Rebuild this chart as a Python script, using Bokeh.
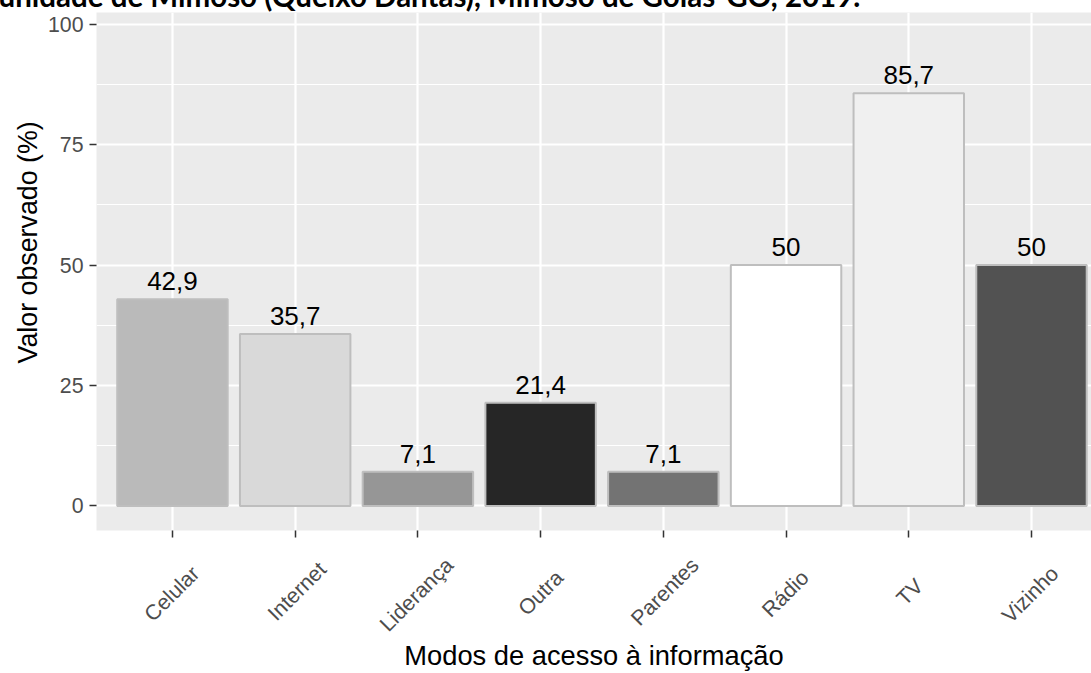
import math
from bokeh.plotting import figure
from bokeh.models import Range1d, FixedTicker, ColumnDataSource, Title
from bokeh.core.properties import value
from bokeh.embed import file_html
from bokeh.resources import INLINE

# ---- data ----
categories = ["Celular", "Internet", "Liderança", "Outra", "Parentes", "Rádio", "TV", "Vizinho"]
values = [42.9, 35.7, 7.1, 21.4, 7.1, 50, 85.7, 50]
value_labels = ["42,9", "35,7", "7,1", "21,4", "7,1", "50", "85,7", "50"]
fill_colors = ["#BABABA", "#D9D9D9", "#969696", "#262626", "#737373", "#FFFFFF", "#F0F0F0", "#525252"]
y_ticks = [0, 25, 50, 75, 100]
y_minor = [12.5, 37.5, 62.5, 87.5]
title_text = "unidade de Mimoso (Queixo Dantas), Mimoso de Goiás-GO, 2019."
x_title = "Modos de acesso à informação"
y_title = "Valor observado (%)"

xs = [i + 1 for i in range(len(categories))]

# ---- layout constants (page pixels) ----
HIDE = 30                      # canvas pixels hidden above the page top (cropped title)
W, H = 1091, 673 + HIDE
LEFT, TOP, BOTTOM = 96, 12 + HIDE, 134
X0, X1 = 0.381, 8.489
Y0, Y1 = -5.102, 102.45
frame_h = H - TOP - BOTTOM
frame_w = W - LEFT
ppu_y = frame_h / (Y1 - Y0)
ppu_x = frame_w / (X1 - X0)

FONT = "Liberation Sans"
TICK_FS = 21.3
TITLE_FS = "26.8px"

# x tick labels: ggplot-style 45 deg labels centred under the ticks.
AW = {"C": .722, "e": .556, "l": .222, "u": .556, "a": .556, "r": .333, "I": .278,
      "n": .556, "t": .278, "L": .556, "i": .222, "d": .556, "ç": .5, "O": .778,
      "P": .667, "s": .5, "R": .722, "á": .556, "o": .556, "T": .611, "V": .667,
      "z": .5, "h": .556}
def text_w(s):
    return sum(AW.get(c, .556) for c in s) * TICK_FS
NB = "\u00a0"
nb_w = 0.278 * TICK_FS
K = max(text_w(c) / 2 for c in categories) + 4
s_px = K * math.sin(math.pi / 4)
d = s_px / ppu_x
padded = [c + NB * int(round((K - text_w(c) / 2) / nb_w)) for c in categories]
label_center_y = 595
frame_bottom_page = 539
label_standoff = int(round(label_center_y - s_px - frame_bottom_page))

p = figure(width=W, height=H, output_backend="svg", toolbar_location=None,
           x_range=Range1d(X0, X1), y_range=Range1d(Y0, Y1),
           min_border_left=LEFT, min_border_right=0, min_border_top=TOP,
           min_border_bottom=BOTTOM,
           background_fill_color="#EBEBEB", border_fill_color="white",
           outline_line_color=None)
p.margin = (-HIDE, 0, 0, 0)
p.extra_x_ranges = {"lab": Range1d(X0 - d, X1 - d)}

# grid
p.xgrid.ticker = FixedTicker(ticks=xs)
p.xgrid.grid_line_color = "white"
p.xgrid.grid_line_width = 2.2
p.ygrid.ticker = FixedTicker(ticks=y_ticks, minor_ticks=y_minor)
p.ygrid.grid_line_color = "white"
p.ygrid.grid_line_width = 2.2
p.ygrid.minor_grid_line_color = "white"
p.ygrid.minor_grid_line_width = 1.2

# bars
lab_y = [v + 10 / ppu_y for v in values]
src = ColumnDataSource(dict(x=xs, top=values, color=fill_colors, lab=value_labels, ly=lab_y))
p.vbar(x="x", top="top", bottom=0, width=0.9, source=src, fill_color="color",
       line_color="#BEBEBE", line_width=2)

# value labels
p.text(x="x", y="ly", text="lab", source=src, text_align="center",
       text_baseline="alphabetic", y_offset=-8, text_font=value(FONT),
       text_font_size="26px", text_color="black")

# y axis
ya = p.yaxis[0]
ya.ticker = FixedTicker(ticks=y_ticks, minor_ticks=[])
ya.axis_line_color = None
ya.major_tick_out = 7
ya.major_tick_in = 0
ya.minor_tick_out = 0
ya.minor_tick_in = 0
ya.major_tick_line_color = "#333333"
ya.major_tick_line_width = 1.5
ya.major_label_standoff = 6
ya.major_label_text_font = FONT
ya.major_label_text_font_size = f"{TICK_FS}px"
ya.major_label_text_color = "#4D4D4D"

# y title (centred as in the uncropped original, i.e. above the frame centre)
p.add_layout(Title(text=y_title, align="left", offset=167, standoff=3,
                   text_font=FONT, text_font_size=TITLE_FS,
                   text_font_style="normal", text_color="black"), "left")

# x axis: on a shifted range so the rotated labels sit centred under the
# category ticks; the minor ticks fall exactly on the category positions.
xa = p.xaxis[0]
xa.x_range_name = "lab"
xa.ticker = FixedTicker(ticks=xs, minor_ticks=[x - d for x in xs])
xa.axis_line_color = None
xa.major_tick_out = 0
xa.major_tick_in = 0
xa.minor_tick_out = 7
xa.minor_tick_in = 0
xa.minor_tick_line_color = "#333333"
xa.minor_tick_line_width = 1.5
xa.major_label_overrides = {x: lbl for x, lbl in zip(xs, padded)}
xa.major_label_orientation = math.pi / 4
xa.major_label_standoff = label_standoff
xa.major_label_text_font = FONT
xa.major_label_text_font_size = f"{TICK_FS}px"
xa.major_label_text_color = "#4D4D4D"
xa.axis_label = x_title
xa.axis_label_text_font = FONT
xa.axis_label_text_font_size = "27.3px"
xa.axis_label_text_font_style = "normal"
xa.axis_label_text_color = "black"
xa.axis_label_standoff = -8

# cropped title at the very top
p.title.text = title_text
p.title.align = "left"
p.title.offset = -98
p.title.standoff = 0
p.title.text_font = "Lato"
p.title.text_font_style = "bold"
p.title.text_font_size = "29.5px"
p.title.text_color = "black"

open("out.html", "w").write(file_html(p, INLINE))
